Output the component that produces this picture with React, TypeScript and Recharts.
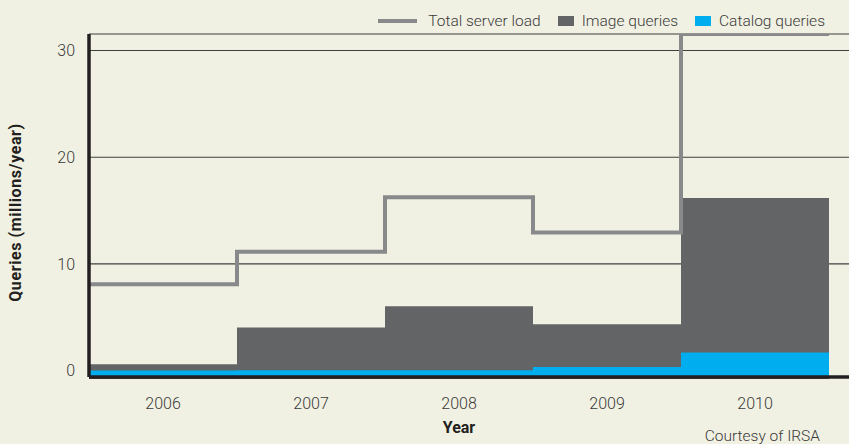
import {
  ComposedChart,
  Bar,
  Line,
  XAxis,
  YAxis,
  CartesianGrid,
  Legend,
} from "recharts";

const years = ["2006", "2007", "2008", "2009", "2010"];
const catalogQueries = [0.02, 0.03, 0.03, 0.34, 1.69];
const imageQueries = [0.57, 4.0, 6.0, 4.0, 14.48];
const totalServerLoad = [8.1, 11.15, 16.25, 12.95, 31.55];
const yTicks = [0, 10, 20, 30];

const Y_MIN = -0.6;
const Y_MAX = 31.55;
const RIGHT_PAD = 20;

const BG = "#f1f1e3";
const INK = "#231f20";
const TEXT = "#3a3a3a";
const IMAGE_COLOR = "#636466";
const CATALOG_COLOR = "#00adee";
const LOAD_COLOR = "#88898b";

const data = years.map((year, i) => ({
  year,
  catalog: catalogQueries[i],
  image: imageQueries[i],
}));

// the load line steps at the year boundaries, so it needs one more point
const loadSteps = [...totalServerLoad, totalServerLoad[totalServerLoad.length - 1]].map(
  (load, i) => ({ pos: i, load })
);

const gridTicks = [Y_MIN, ...yTicks, Y_MAX];

const gridLine = (props: any) => {
  const { x1, x2, y1, index, key } = props;
  const tick = gridTicks[index];
  if (tick === 0) return <g key={key} />;
  const isFloor = tick === Y_MIN;
  return (
    <line
      key={key}
      x1={x1}
      x2={x2 + RIGHT_PAD}
      y1={y1}
      y2={y1}
      stroke={isFloor ? INK : "#3f3f3f"}
      strokeWidth={isFloor ? 3.5 : 1.1}
    />
  );
};

const legendItems = [
  { name: "Total server load", color: LOAD_COLOR, kind: "line" },
  { name: "Image queries", color: IMAGE_COLOR, kind: "box" },
  { name: "Catalog queries", color: CATALOG_COLOR, kind: "box" },
];

const renderLegend = () => (
  <div
    style={{
      display: "flex",
      justifyContent: "flex-end",
      alignItems: "center",
      fontSize: 15.5,
      fontWeight: 300,
      color: TEXT,
      lineHeight: "20px",
    }}
  >
    {legendItems.map((it) => (
      <div key={it.name} style={{ display: "flex", alignItems: "center", marginLeft: 17 }}>
        {it.kind === "line" ? (
          <span style={{ width: 39, height: 4, background: it.color, marginRight: 11 }} />
        ) : (
          <span style={{ width: 16, height: 10, background: it.color, marginRight: 8 }} />
        )}
        <span>{it.name}</span>
      </div>
    ))}
  </div>
);

const yLabel = ({ viewBox }: any) => {
  const cx = viewBox.x + 15;
  const cy = viewBox.y + viewBox.height / 2 + 7;
  return (
    <text
      x={cx}
      y={cy}
      transform={`rotate(-90 ${cx} ${cy})`}
      textAnchor="middle"
      dominantBaseline="central"
      fontSize={16}
      fontWeight={700}
      letterSpacing={0.6}
      fill={INK}
    >
      Queries (millions/year)
    </text>
  );
};

export default function App() {
  return (
    <div
      style={{
        position: "absolute",
        top: 0,
        left: 0,
        width: 849,
        height: 444,
        background: BG,
        fontFamily: "Roboto, sans-serif",
        overflow: "hidden",
      }}
    >
      <ComposedChart
        width={849}
        height={444}
        data={data}
        margin={{ top: 34, right: RIGHT_PAD, bottom: 0, left: 0 }}
        barCategoryGap={0}
      >
        <CartesianGrid vertical={false} horizontal={gridLine} />
        <Legend
          layout="horizontal"
          verticalAlign="middle"
          align="center"
          wrapperStyle={{ top: 11, left: 0, width: 825 }}
          content={renderLegend}
        />
        <YAxis
          type="number"
          domain={[Y_MIN, Y_MAX]}
          ticks={gridTicks}
          allowDataOverflow
          interval={0}
          width={89}
          axisLine={{ stroke: INK, strokeWidth: 3.5 }}
          tickLine={false}
          tickSize={0}
          tickMargin={14}
          tick={{ fill: TEXT, fontSize: 16, fontWeight: 300 }}
          tickFormatter={(v: number) => (yTicks.includes(v) ? String(v) : "")}
          label={{ content: yLabel }}
        />
        <XAxis xAxisId="cat" dataKey="year" hide />
        <XAxis
          xAxisId="step"
          type="number"
          dataKey="pos"
          domain={[0, years.length]}
          allowDataOverflow
          hide
        />
        <Bar
          dataKey={(d: any) => [Y_MIN, d.catalog + d.image]}
          fill={IMAGE_COLOR}
          isAnimationActive={false}
        />
        <Bar
          xAxisId="cat"
          dataKey={(d: any) => [Y_MIN, d.catalog]}
          fill={CATALOG_COLOR}
          isAnimationActive={false}
        />
        <Line
          xAxisId="step"
          data={loadSteps}
          dataKey="load"
          type="stepAfter"
          stroke={LOAD_COLOR}
          strokeWidth={4}
          dot={false}
          activeDot={false}
          isAnimationActive={false}
        />
        <XAxis
          dataKey="year"
          height={67}
          axisLine={{ stroke: INK, strokeWidth: 3.5 }}
          tickLine={false}
          tickSize={0}
          tickMargin={21}
          tick={{ fill: TEXT, fontSize: 16, fontWeight: 300 }}
          label={{
            value: "Year",
            position: "insideBottom",
            offset: 11,
            fill: INK,
            fontSize: 16,
            fontWeight: 700,
          }}
        />
      </ComposedChart>
      <div
        style={{
          position: "absolute",
          right: 29,
          top: 427,
          fontSize: 15.5,
          fontWeight: 300,
          lineHeight: "18px",
          color: TEXT,
        }}
      >
        Courtesy of IRSA
      </div>
    </div>
  );
}
